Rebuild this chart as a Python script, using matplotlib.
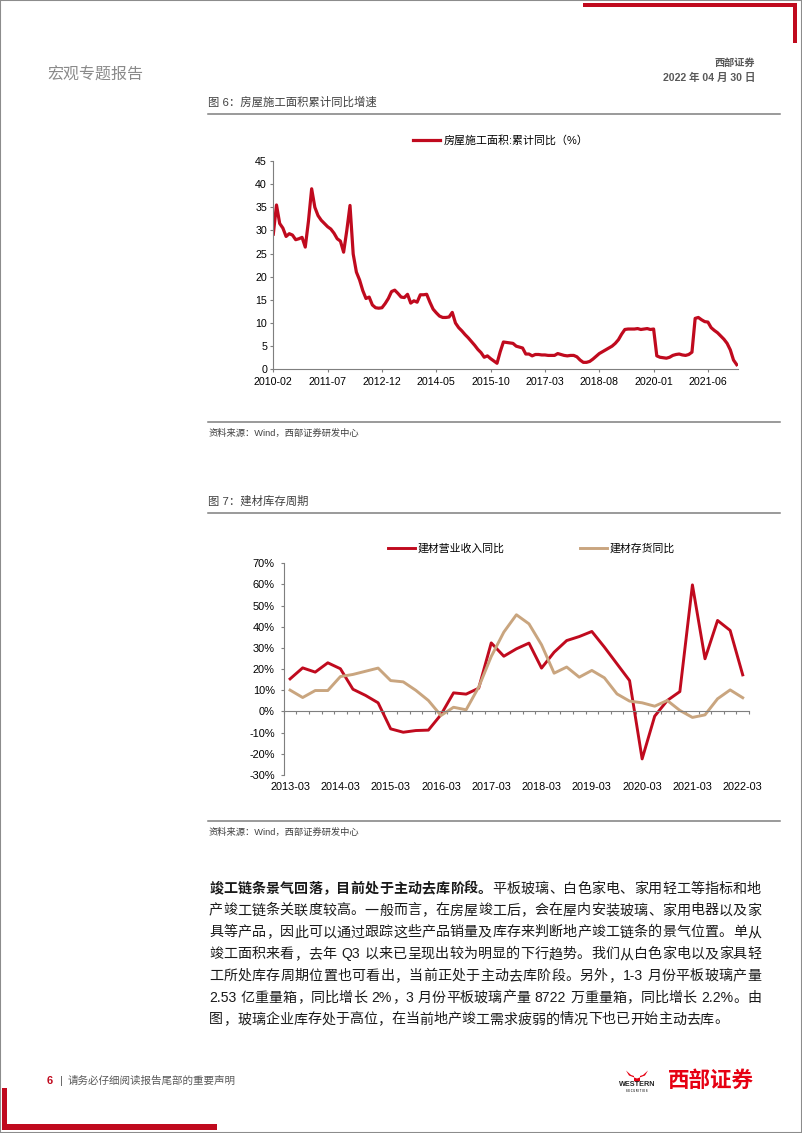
import re
import matplotlib
matplotlib.use("Agg")
import matplotlib.pyplot as plt
from matplotlib.patches import Rectangle, Polygon
from matplotlib.lines import Line2D
import numpy as np
import pandas as pd

plt.rcParams['font.family'] = ['Liberation Sans', 'Noto Sans CJK SC']

W, H = 802, 1133

RED = "#C00A1E"
TAN = "#C9A57F"
GRAY = "#7f7f7f"
DARK = "#404040"

# ---- figure 6: 房屋施工面积累计同比 (monthly, 2010-02 .. 2022-03)
area_months = [p.strftime("%Y-%m") for p in pd.period_range("2010-02", periods=146, freq="M")]
area_yoy = [
	29.2, 35.5, 31.5, 30.5, 28.7, 29.3, 29.0, 28.0, 28.2, 28.5,
	26.4, 32.0, 39.0, 35.0, 33.2, 32.2, 31.5, 30.8, 30.3, 29.4,
	28.2, 27.7, 25.3, 30.0, 35.4, 24.9, 21.0, 19.3, 17.0, 15.3,
	15.6, 13.9, 13.3, 13.2, 13.3, 14.2, 15.3, 16.8, 17.1, 16.4,
	15.6, 15.5, 16.2, 14.3, 14.8, 14.5, 16.1, 16.1, 16.2, 14.5,
	13.0, 12.2, 11.5, 11.2, 11.2, 11.3, 12.3, 10.0, 9.0, 8.3,
	7.5, 6.8, 6.0, 5.2, 4.3, 3.6, 2.6, 2.9, 2.3, 1.8,
	1.3, 3.8, 5.9, 5.8, 5.7, 5.6, 5.0, 4.8, 4.6, 3.3,
	3.3, 2.9, 3.2, 3.2, 3.1, 3.1, 3.0, 3.0, 3.0, 3.4,
	3.2, 3.0, 2.9, 3.0, 3.0, 2.7, 2.0, 1.5, 1.5, 1.7,
	2.2, 2.8, 3.4, 3.8, 4.2, 4.6, 5.0, 5.6, 6.4, 7.6,
	8.6, 8.7, 8.7, 8.7, 8.8, 8.6, 8.7, 8.8, 8.6, 8.7,
	2.9, 2.6, 2.5, 2.4, 2.6, 3.0, 3.2, 3.3, 3.1, 3.0,
	3.2, 3.7, 11.0, 11.2, 10.7, 10.3, 10.2, 9.0, 8.4, 7.9,
	7.2, 6.5, 5.6, 4.2, 2.0, 1.0,
]
area_tick_step = 17

# ---- figure 7: 建材库存周期 (quarterly, 2013-03 .. 2022-03)
quarters = [p.strftime("%Y-%m") for p in pd.period_range("2013-03", "2022-03", freq="3M")]
revenue_yoy = [
	15.4, 20.6, 18.6, 23.0, 20.2, 10.5, 7.6, 4.1, -8.2, -9.8,
	-9.0, -8.8, -1.5, 8.8, 8.2, 11.0, 32.4, 26.1, 29.6, 32.3,
	20.5, 28.0, 33.5, 35.4, 37.8, 30.4, 22.5, 14.6, -22.4, -2.2,
	5.2, 9.4, 59.8, 24.9, 43.0, 38.3, 17.3,
]
inventory_yoy = [
	10.1, 6.6, 9.9, 9.9, 16.5, 17.5, 19.0, 20.5, 14.6, 14.0,
	10.0, 5.2, -1.9, 2.0, 0.8, 11.5, 26.0, 37.5, 45.7, 41.4,
	31.5, 18.1, 21.0, 16.2, 19.4, 15.9, 8.3, 4.9, 4.1, 2.5,
	5.2, 0.5, -2.8, -1.6, 6.0, 10.2, 6.5,
]
quarter_tick_step = 4

para_lines = [
	[("竣工链条景气回落，目前处于主动去库阶段。", "bold"), ("平板玻璃、白色家电、家用轻工等指标和地", "normal")],
	[("产竣工链条关联度较高。一般而言，在房屋竣工后，会在屋内安装玻璃、家用电器以及家", "normal")],
	[("具等产品，因此可以通过跟踪这些产品销量及库存来判断地产竣工链条的景气位置。单从", "normal")],
	[("竣工面积来看，去年 Q3 以来已呈现出较为明显的下行趋势。我们从白色家电以及家具轻", "normal")],
	[("工所处库存周期位置也可看出，当前正处于主动去库阶段。另外，1-3 月份平板玻璃产量", "normal")],
	[("2.53 亿重量箱，同比增长 2%，3 月份平板玻璃产量 8722 万重量箱，同比增长 2.2%。由", "normal")],
	[("图，玻璃企业库存处于高位，在当前地产竣工需求疲弱的情况下也已开始主动去库。", "normal")],
]


fig = plt.figure(figsize=(W / 100, H / 100), dpi=100)
renderer = fig.canvas.get_renderer()


def fx(x):
	return x / W


def fy(y):
	return 1 - y / H


def px_axes(left, top, right, bottom):
	return fig.add_axes([fx(left), fy(bottom), (right - left) / W, (bottom - top) / H])


def hline(x0, x1, y, color=GRAY, lw=1.1):
	fig.add_artist(Line2D([fx(x0), fx(x1)], [fy(y), fy(y)], color=color, lw=lw,
		transform=fig.transFigure))


def rect(x0, y0, x1, y1, color=RED):
	fig.add_artist(Rectangle((fx(x0), fy(y1)), (x1 - x0) / W, (y1 - y0) / H,
		facecolor=color, edgecolor="none", transform=fig.transFigure))


# ---- page decorations
fig.add_artist(Rectangle((0, 0), 1, 1, fill=False, edgecolor="#8c8c8c", lw=1.5,
	transform=fig.transFigure))
rect(583, 2.7, 797.3, 7.3)
rect(792.7, 2.7, 797.3, 43)
rect(1.7, 1088, 7.3, 1130)
rect(1.7, 1124, 217, 1130)

fig.text(fx(47.5), fy(75), "宏观专题报告", fontsize=11.5, color="#8a8a8a", va="center")
fig.text(fx(755), fy(62.5), "西部证券", fontsize=7.3, color="#595959", weight="bold",
	ha="right", va="center")
fig.text(fx(755), fy(77.5), "2022 年 04 月 30 日", fontsize=7.6, color="#595959",
	weight="bold", ha="right", va="center")

# footer
fig.text(fx(49.3), fy(1080.5), "6", fontsize=8, color=RED, weight="bold", va="center", ha="center")
fig.text(fx(61.7), fy(1080.5), "|", fontsize=8, color="#595959", va="center", ha="center")
fig.text(fx(68), fy(1080.5), "请务必仔细阅读报告尾部的重要声明", fontsize=7.6, color="#595959",
	va="center")
fig.text(fx(637), fy(1085), "WESTERN", fontsize=5.2, weight="bold", color="#222222",
	ha="center", va="center")
fig.text(fx(637), fy(1090.5), "S E C U R I T I E S", fontsize=1.8, weight="bold",
	color="#222222", ha="center", va="center")
horn = [(626, 1070.5), (631, 1075), (634, 1076), (634, 1081), (637, 1082.5),
	(640, 1081), (640, 1076), (643, 1075), (648, 1070.5), (645, 1075.5),
	(637, 1078.5), (629, 1075.5)]
fig.add_artist(Polygon([(fx(a), fy(b)) for a, b in horn], closed=True, facecolor="#E60012",
	edgecolor="none", transform=fig.transFigure))
fig.text(fx(711), fy(1081), "西部证券", fontsize=15.5, weight="heavy", color="#E60012",
	ha="center", va="center")


# ---- figure 6
fig.text(fx(208), fy(101.5), "图 6：房屋施工面积累计同比增速", fontsize=8.2, color=DARK, va="center")
hline(208, 780, 113.5)
hline(208, 780, 421.7)
fig.text(fx(209), fy(433.5), "资料来源：Wind，西部证券研发中心", fontsize=6.7, color=DARK, va="center")

ax1 = px_axes(273.3, 161, 738.3, 369.3)
ax1.plot(np.arange(len(area_yoy)), area_yoy, color=RED, lw=2.3, solid_joinstyle="round",
	label="房屋施工面积:累计同比（%）")
ax1.set_xlim(0, len(area_yoy) - 0.5)
ax1.set_ylim(0, 45)
ax1.set_yticks(np.arange(0, 46, 5))
ax1.set_xticks(np.arange(0, len(area_yoy), area_tick_step))
ax1.set_xticklabels(area_months[::area_tick_step])
for side in ["top", "right"]:
	ax1.spines[side].set_visible(False)
for side in ["left", "bottom"]:
	ax1.spines[side].set_color(GRAY)
	ax1.spines[side].set_linewidth(0.8)
ax1.tick_params(axis="both", direction="out", length=2.0, width=0.8, color=GRAY,
	labelsize=7.7, labelcolor="black")
ax1.tick_params(axis="x", pad=3.5)
ax1.tick_params(axis="y", pad=2.5)
ax1.patch.set_visible(False)

fig.legend(*ax1.get_legend_handles_labels(), loc="center left",
	bbox_to_anchor=(fx(413), fy(140)), frameon=False, borderpad=0, borderaxespad=0,
	handlelength=2.5, handletextpad=0.25, fontsize=7.9)


# ---- figure 7
fig.text(fx(208), fy(500.7), "图 7：建材库存周期", fontsize=8.2, color=DARK, va="center")
hline(208, 780, 513.3)
hline(208, 780, 820.7)
fig.text(fx(209), fy(832.5), "资料来源：Wind，西部证券研发中心", fontsize=6.7, color=DARK, va="center")

ax2 = px_axes(283.8, 563.3, 749, 775)
xq = np.arange(len(quarters))
ax2.plot(xq, revenue_yoy, color=RED, lw=2.1, solid_joinstyle="round", label="建材营业收入同比")
ax2.plot(xq, inventory_yoy, color=TAN, lw=2.1, solid_joinstyle="round", label="建材存货同比")
ax2.set_xlim(-0.5, len(quarters) - 0.5)
ax2.set_ylim(-30, 70)
ax2.set_yticks(np.arange(-30, 71, 10))
ax2.set_yticklabels([f"{v}%" for v in range(-30, 71, 10)])
ax2.set_xticks(np.arange(-0.5, len(quarters), 1))
ax2.set_xticklabels([])
ax2.spines["bottom"].set_position(("data", 0))
for side in ["top", "right"]:
	ax2.spines[side].set_visible(False)
for side in ["left", "bottom"]:
	ax2.spines[side].set_color(GRAY)
	ax2.spines[side].set_linewidth(0.8)
ax2.tick_params(axis="both", direction="out", length=2.0, width=0.8, color=GRAY,
	labelsize=7.9, labelcolor="black")
ax2.tick_params(axis="y", pad=4.5)
for i in range(0, len(quarters), quarter_tick_step):
	ax2.text(i, -0.058, quarters[i], transform=ax2.get_xaxis_transform(), ha="center",
		va="center", fontsize=7.8)
ax2.patch.set_visible(False)

fig.legend(*ax2.get_legend_handles_labels(), loc="center left",
	bbox_to_anchor=(fx(388), fy(548.3)), frameon=False, borderpad=0, borderaxespad=0,
	ncol=2, handlelength=2.5, handletextpad=0.25, columnspacing=6.9, fontsize=7.8)


# ---- body paragraph (justified line by line)
PARA_FS = 10.1
fs_px = PARA_FS / 72 * 100


def para_line(parts, y, x0=209, x1=761, justify=True):
	units = []
	for s, wt in parts:
		for tok in re.findall(r"[A-Za-z0-9.%\-]+| |.", s):
			units.append((tok, wt))
	widths = []
	for tok, wt in units:
		if tok == " ":
			widths.append(0.3 * fs_px)
		elif tok.isascii():
			t = fig.text(0, 0, tok, fontsize=PARA_FS, weight=wt)
			widths.append(t.get_window_extent(renderer).width)
			t.remove()
		else:
			widths.append(fs_px)
	gap = (x1 - x0 - sum(widths)) / (len(units) - 1) if justify else 0.0
	x = x0
	for (tok, wt), w in zip(units, widths):
		if tok != " ":
			fig.text(fx(x + w / 2), fy(y + 0.37 * fs_px), tok, fontsize=PARA_FS, weight=wt,
				color="#1a1a1a", ha="center", va="baseline")
		x += w + gap


for k, parts in enumerate(para_lines):
	para_line(parts, 887.5 + k * 21.8, justify=(k < len(para_lines) - 1))


fig.savefig("out.png", dpi=100)
plt.close(fig)
